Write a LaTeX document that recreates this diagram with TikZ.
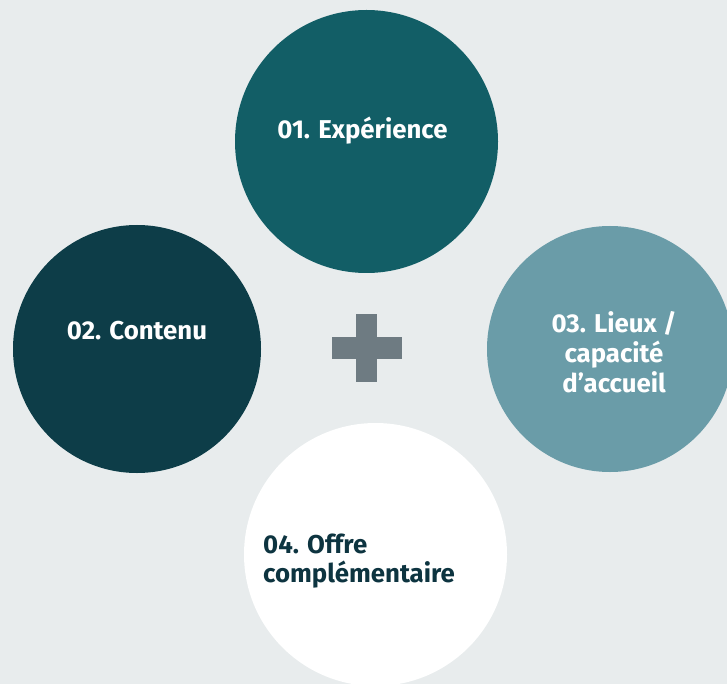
\documentclass[tikz,border=0pt]{standalone}
\usepackage{fontspec}
\setmainfont{Fira Sans}
\usetikzlibrary{positioning}

\definecolor{bgpale}{HTML}{E8ECED}
\definecolor{tealmid}{HTML}{125E66}
\definecolor{tealdark}{HTML}{0D3D48}
\definecolor{teallight}{HTML}{6A9CA8}
\definecolor{plusgray}{HTML}{6E7B82}
\definecolor{inkdark}{HTML}{0D3440}

\tikzset{
  bubble/.style={circle, inner sep=0pt, draw=none},
  bubbletext/.style={font=\fontsize{25.8}{30}\selectfont\bfseries, text=white, inner sep=0pt}
}

\begin{document}
\begin{tikzpicture}[x=1pt, y=-1pt]

  % background
  \fill[bgpale] (0,0) rectangle (727,684);
  \useasboundingbox (0,0) rectangle (727,684);

  % the four bubbles
  \node[bubble, fill=tealmid,   minimum size=263pt] (expe) at (366.5,141.5) {};
  \node[bubble, fill=tealdark,  minimum size=248pt] (cont) at (137,349) {};
  \node[bubble, fill=teallight, minimum size=246pt] (lieu) at (610,349) {};
  \node[bubble, fill=white,     minimum size=263pt] (offr) at (375.5,554.5) {};

  % labels (base = last line)
  \node[bubbletext, anchor=base] (expelbl) at (362.5,139) {01. Expérience};
  \node[bubbletext, anchor=base] (contlbl) at (137,339) {02. Contenu};
  \node[bubbletext, anchor=base, align=center] (lieulbl) at (614,392)
    {03. Lieux /\\capacité\\d’accueil};
  \node[bubbletext, anchor=base west, align=left, text=inkdark,
        font=\fontsize{25.8}{28.5}\selectfont\bfseries] (offrlbl) at (263,582)
    {04. Offre\\complémentaire};

  % plus sign in the middle
  \fill[plusgray] (332,337) rectangle (402,359);
  \fill[plusgray] (356,314) rectangle (377,382);

\end{tikzpicture}
\end{document}
